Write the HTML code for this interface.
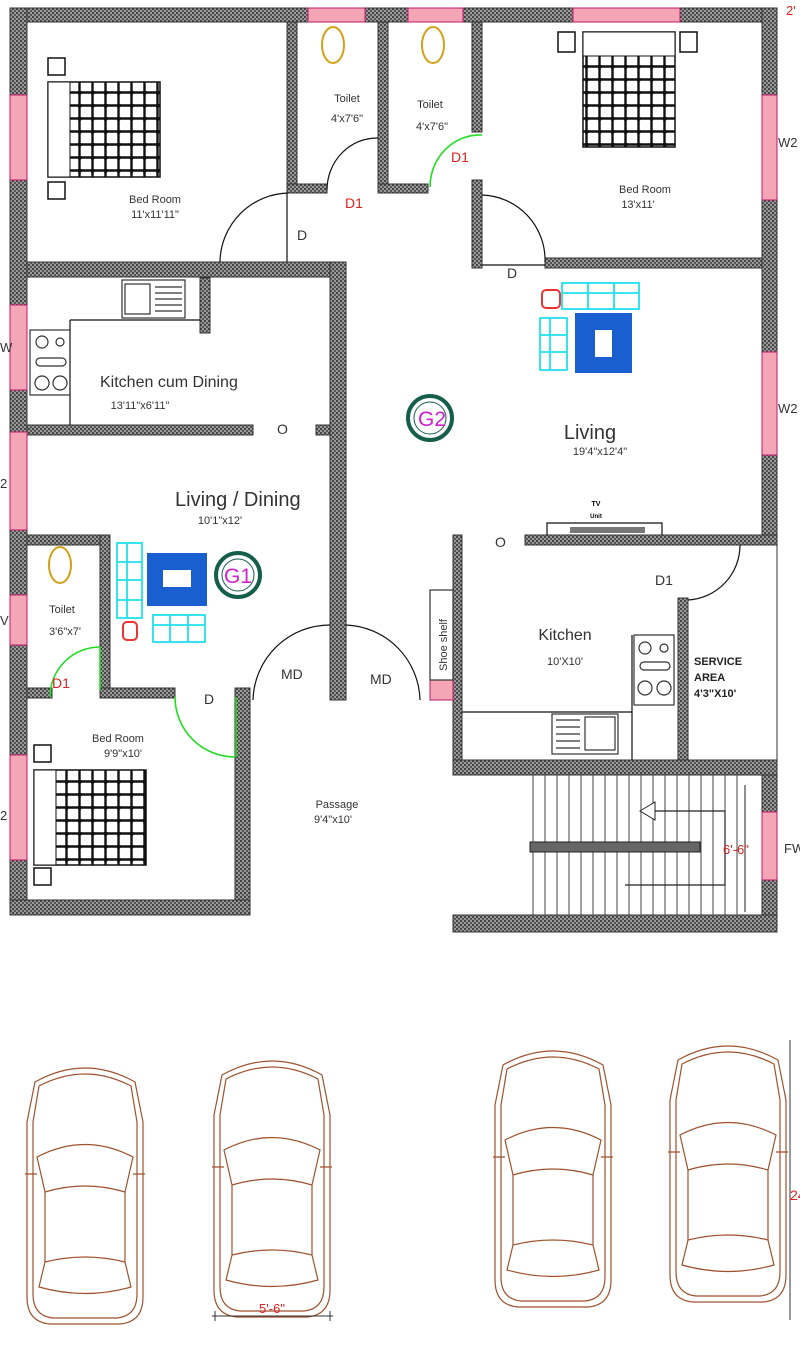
<!DOCTYPE html>
<html><head><meta charset="utf-8"><style>
html,body{margin:0;padding:0;background:#fff}
svg{display:block}
text{font-family:"Liberation Sans",sans-serif}
</style></head><body>
<svg width="800" height="1345" viewBox="0 0 800 1345" xmlns="http://www.w3.org/2000/svg">
<defs>
<pattern id="h" width="4" height="4" patternUnits="userSpaceOnUse"><rect width="4" height="4" fill="#9a9a9a"/><rect width="2" height="2" fill="#444"/><rect x="2" y="2" width="2" height="2" fill="#555"/></pattern>
<pattern id="g" width="13" height="13" patternUnits="userSpaceOnUse"><rect width="13" height="13" fill="#fff"/><path d="M0 1.5H13M1.5 0V13" stroke="#111" stroke-width="2.4"/><circle cx="1.5" cy="1.5" r="2.4" fill="#111"/></pattern>
<g id="car" fill="none" stroke="#a0522d" stroke-width="1.2">
<path d="M10 20 Q60 -8 110 20 L118 60 L118 235 Q118 260 95 262 L25 262 Q2 260 2 235 L2 60 Z"/>
<path d="M14 24 Q60 0 106 24 L112 60 L112 232 Q112 254 92 256 L28 256 Q8 254 8 232 L8 60 Z"/>
<path d="M12 95 Q60 70 108 95 L100 130 Q60 118 20 130 Z"/>
<path d="M20 200 Q60 190 100 200 L106 225 Q60 238 14 225 Z"/>
<path d="M0 112 L12 112 M108 112 L120 112"/>
<path d="M20 130 L20 200 M100 130 L100 200"/>
</g>
</defs>
<rect width="800" height="1345" fill="#fff"/>
<g fill="url(#h)" stroke="#333" stroke-width="1">
<rect x="10" y="8" width="767" height="14"/>
<rect x="10" y="8" width="17" height="907"/>
<rect x="762" y="8" width="15" height="528"/>
<rect x="27" y="262" width="318" height="15"/>
<rect x="330" y="262" width="16" height="438"/>
<rect x="27" y="425" width="226" height="10"/>
<rect x="316" y="425" width="14" height="10"/>
<rect x="200" y="278" width="10" height="55"/>
<rect x="287" y="22" width="10" height="168"/>
<rect x="287" y="184" width="40" height="9"/>
<rect x="378" y="22" width="10" height="168"/>
<rect x="378" y="184" width="50" height="9"/>
<rect x="472" y="22" width="10" height="110"/>
<rect x="472" y="180" width="10" height="88"/>
<rect x="545" y="258" width="217" height="10"/>
<rect x="27" y="535" width="83" height="10"/>
<rect x="100" y="535" width="10" height="155"/>
<rect x="27" y="688" width="25" height="10"/>
<rect x="100" y="688" width="75" height="10"/>
<rect x="235" y="688" width="15" height="227"/>
<rect x="10" y="900" width="240" height="15"/>
<rect x="453" y="535" width="9" height="240"/>
<rect x="525" y="535" width="252" height="10"/>
<rect x="678" y="598" width="10" height="165"/>
<rect x="453" y="760" width="324" height="15"/>
<rect x="762" y="775" width="15" height="157"/>
<rect x="453" y="915" width="324" height="17"/>
</g>
<line x1="777" y1="545" x2="777" y2="760" stroke="#333"/>
<g fill="#f4a6b6" stroke="#c0186a" stroke-width="1">
<rect x="10" y="95" width="17" height="85"/>
<rect x="10" y="305" width="17" height="85"/>
<rect x="10" y="432" width="17" height="98"/>
<rect x="10" y="755" width="17" height="105"/>
<rect x="762" y="95" width="15" height="105"/>
<rect x="762" y="352" width="15" height="103"/>
<rect x="762" y="812" width="15" height="68"/>
<rect x="573" y="8" width="107" height="14"/>
<rect x="408" y="8" width="55" height="14"/>
<rect x="308" y="8" width="57" height="14"/>
<rect x="10" y="595" width="17" height="50"/>
<rect x="430" y="680" width="23" height="20"/>
</g>
<g fill="none" stroke="#111" stroke-width="1.2">
<path d="M220 262 A70 70 0 0 1 288 193 M287 193 V262"/>
<path d="M327 190 A50 52 0 0 1 378 138"/>
<path d="M482 195 A65 65 0 0 1 545 262 M482 265 H545"/>
<path d="M253 700 A77 77 0 0 1 330 625"/>
<path d="M346 625 A77 77 0 0 1 420 700"/>
<path d="M688 600 A55 55 0 0 0 740 545"/>
<path d="M70 320 H200 M70 320 V425 M462 712 H632 V635 M632 712 V760"/>
<path d="M547 535 V523 H662 V535"/>
</g>
<g fill="none" stroke="#22dd22" stroke-width="1.6">
<path d="M430 187 A50 52 0 0 1 482 135"/>
<path d="M50 697 A50 50 0 0 1 100 647 M100 647 V690"/>
<path d="M175 697 A60 60 0 0 0 235 757 M236 697 V757"/>
</g>
<rect x="570" y="527" width="75" height="6" fill="#777"/>
<rect x="48" y="82" width="112" height="95" fill="url(#g)" stroke="#111" stroke-width="1.5"/>
<rect x="48" y="82" width="22" height="95" fill="#fff" stroke="#111"/>
<rect x="48" y="58" width="17" height="17" fill="none" stroke="#111" stroke-width="1.5"/>
<rect x="48" y="182" width="17" height="17" fill="none" stroke="#111" stroke-width="1.5"/>
<rect x="583" y="32" width="92" height="115" fill="url(#g)" stroke="#111" stroke-width="1.5"/>
<rect x="583" y="32" width="92" height="24" fill="#fff" stroke="#111"/>
<rect x="558" y="32" width="17" height="20" fill="none" stroke="#111" stroke-width="1.5"/>
<rect x="680" y="32" width="17" height="20" fill="none" stroke="#111" stroke-width="1.5"/>
<rect x="34" y="770" width="112" height="95" fill="url(#g)" stroke="#111" stroke-width="1.5"/>
<rect x="34" y="770" width="22" height="95" fill="#fff" stroke="#111"/>
<rect x="34" y="745" width="17" height="17" fill="none" stroke="#111" stroke-width="1.5"/>
<rect x="34" y="868" width="17" height="17" fill="none" stroke="#111" stroke-width="1.5"/>
<g fill="none" stroke="#d4a017" stroke-width="2">
<ellipse cx="333" cy="45" rx="11" ry="18"/><ellipse cx="433" cy="45" rx="11" ry="18"/><ellipse cx="60" cy="565" rx="11" ry="18"/>
</g>
<g fill="none" stroke="#333" stroke-width="1.2">
<rect x="122" y="280" width="63" height="38"/><rect x="125" y="284" width="25" height="30"/>
<path d="M155 287H182M155 293H182M155 299H182M155 305H182M155 311H182"/>
<rect x="30" y="330" width="40" height="65"/><circle cx="42" cy="342" r="6"/><circle cx="60" cy="342" r="4"/><rect x="36" y="358" width="30" height="8" rx="4"/><circle cx="42" cy="383" r="7"/><circle cx="60" cy="383" r="7"/>
<rect x="634" y="635" width="40" height="70"/><circle cx="645" cy="648" r="6"/><circle cx="664" cy="648" r="4"/><rect x="640" y="662" width="30" height="8" rx="4"/><circle cx="645" cy="688" r="7"/><circle cx="664" cy="688" r="7"/>
<rect x="552" y="714" width="66" height="40"/><rect x="585" y="717" width="30" height="33"/>
<path d="M556 720H580M556 727H580M556 734H580M556 741H580M556 748H580"/>
<rect x="430" y="590" width="23" height="90"/>
</g>
<g stroke="#444" stroke-width="1">
<path d="M533 775V915M545 775V915M557 775V915M569 775V915M581 775V915M593 775V915M605 775V915M617 775V915M629 775V915M641 775V915M653 775V915M665 775V915M677 775V915M689 775V915M701 775V915M713 775V915M725 775V915M737 775V915"/>
</g>
<rect x="530" y="842" width="170" height="10" fill="#666" stroke="#222"/>
<path d="M640 811H725V885H625" fill="none" stroke="#222" stroke-width="1.2"/>
<path d="M640 811L655 802V820Z" fill="#fff" stroke="#222"/>
<path d="M745 785V912" stroke="#222"/>
<g fill="none" stroke="#22e0ee" stroke-width="1.8">
<rect x="562" y="283" width="77" height="26"/><path d="M588 283V309M614 283V309M562 293H639"/>
<rect x="540" y="318" width="27" height="52"/><path d="M550 318V370M540 335H567M540 352H567"/>
<rect x="117" y="543" width="25" height="75"/><path d="M127 543V618M117 562H142M117 580H142M117 600H142"/>
<rect x="153" y="615" width="52" height="27"/><path d="M170 615V642M188 615V642M153 625H205"/>
</g>
<rect x="542" y="290" width="18" height="18" rx="4" fill="none" stroke="#e33" stroke-width="2"/>
<rect x="123" y="622" width="14" height="18" rx="4" fill="none" stroke="#e33" stroke-width="2"/>
<rect x="575" y="313" width="57" height="60" fill="#1a5fd0"/><rect x="595" y="330" width="17" height="27" fill="#fff"/>
<rect x="147" y="553" width="60" height="53" fill="#1a5fd0"/><rect x="163" y="570" width="28" height="17" fill="#fff"/>
<circle cx="238" cy="575" r="22" fill="#fff" stroke="#155e4a" stroke-width="4"/><circle cx="238" cy="575" r="16" fill="none" stroke="#155e4a" stroke-width="1"/>
<text x="238" y="583" font-size="21" fill="#d020d0" text-anchor="middle">G1</text>
<circle cx="430" cy="418" r="22" fill="#fff" stroke="#155e4a" stroke-width="4"/><circle cx="430" cy="418" r="16" fill="none" stroke="#155e4a" stroke-width="1"/>
<text x="432" y="426" font-size="21" fill="#d020d0" text-anchor="middle">G2</text>
<g fill="#333" font-size="11" text-anchor="middle">
<text x="155" y="203">Bed Room</text><text x="155" y="218">11'x11'11"</text>
<text x="347" y="102">Toilet</text><text x="347" y="122">4'x7'6"</text>
<text x="430" y="108">Toilet</text><text x="432" y="130">4'x7'6"</text>
<text x="645" y="193">Bed Room</text><text x="638" y="208">13'x11'</text>
<text x="118" y="742">Bed Room</text><text x="123" y="757">9'9"x10'</text>
<text x="62" y="613">Toilet</text><text x="65" y="635">3'6"x7'</text>
<text x="337" y="808">Passage</text><text x="333" y="823">9'4"x10'</text>
<text x="140" y="409">13'11"x6'11"</text>
<text x="220" y="524">10'1"x12'</text>
<text x="600" y="455">19'4"x12'4"</text>
<text x="565" y="665">10'X10'</text>
</g>
<text x="100" y="387" font-size="16" fill="#333">Kitchen cum Dining</text>
<text x="175" y="506" font-size="20" fill="#333">Living / Dining</text>
<text x="590" y="439" font-size="20" fill="#333" text-anchor="middle">Living</text>
<text x="565" y="640" font-size="16" fill="#333" text-anchor="middle">Kitchen</text>
<g font-size="11" font-weight="bold" fill="#222"><text x="694" y="665">SERVICE</text><text x="694" y="681">AREA</text><text x="694" y="697">4'3"X10'</text></g>
<text x="596" y="506" font-size="7" font-weight="bold" text-anchor="middle">TV</text><text x="596" y="518" font-size="6" font-weight="bold" text-anchor="middle">Unit</text>
<text x="447" y="645" font-size="11" fill="#333" transform="rotate(-90 447 645)" text-anchor="middle">Shoe shelf</text>
<g font-size="14" fill="#333">
<text x="297" y="240">D</text><text x="507" y="278">D</text><text x="204" y="704">D</text>
<text x="281" y="679">MD</text><text x="370" y="684">MD</text>
<text x="277" y="434">O</text><text x="495" y="547">O</text>
<text x="655" y="585">D1</text>
</g>
<g font-size="14" fill="#e02020">
<text x="345" y="208">D1</text><text x="451" y="162">D1</text><text x="52" y="688">D1</text>
</g>
<text x="723" y="854" font-size="13" fill="#e02020">6'-6"</text>
<text x="786" y="15" font-size="13" fill="#e02020">2'</text>
<g font-size="13" fill="#333"><text x="778" y="147">W2</text><text x="778" y="413">W2</text><text x="784" y="853">FW</text><text x="0" y="352">W</text><text x="0" y="488">2</text><text x="0" y="625">V</text><text x="0" y="820">2</text></g>
<use href="#car" x="25" y="1062"/>
<use href="#car" x="212" y="1055"/>
<use href="#car" x="493" y="1045"/>
<use href="#car" x="668" y="1040"/>
<path d="M212 1316H333M215 1311V1321M330 1311V1321" stroke="#333"/>
<text x="272" y="1313" font-size="13" fill="#e02020" text-anchor="middle">5'-6"</text>
<text x="790" y="1200" font-size="14" fill="#e02020">24'-</text>
<path d="M790 1040V1320" stroke="#333"/>
</svg>
</body></html>
